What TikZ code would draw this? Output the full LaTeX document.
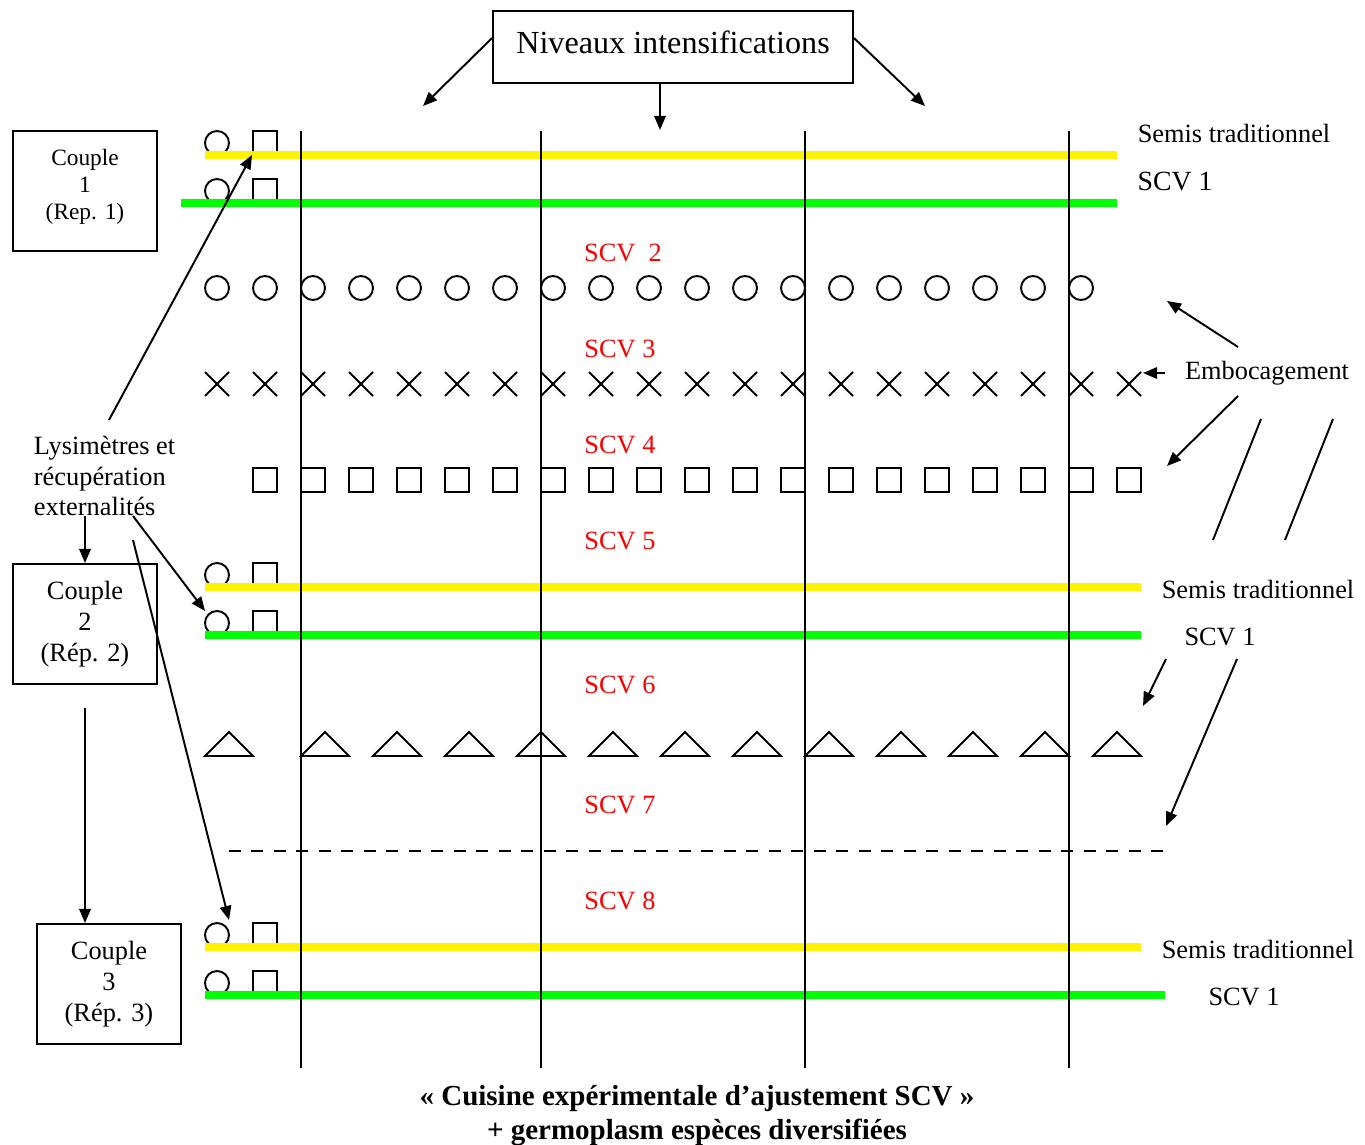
\documentclass[tikz,border=0pt]{standalone}
\usepackage{fontspec}
\setmainfont{Liberation Serif}
\usetikzlibrary{arrows.meta}

\begin{document}
\begin{tikzpicture}[x=0.02cm, y=-0.02cm, line width=1.1pt,
        fl/.style={-{Triangle[length=8pt,width=6.5pt]}},
        boite/.style={draw, minimum width=2.88cm, minimum height=2.4cm, align=center, inner sep=0pt},
        txt/.style={inner sep=0pt, font=\fontsize{15}{17.6}\selectfont},
        rouge/.style={txt, text=red},
        rond/.style={draw, circle, minimum size=0.48cm, inner sep=0pt},
        carre/.style={draw, rectangle, minimum size=0.48cm, inner sep=0pt},
        jaune/.style={draw=yellow, line width=4pt},
        vert/.style={draw=green, line width=4pt}]
        \useasboundingbox (0,0) rectangle (1365,1145);

        % boites
        \node[draw, minimum width=7.2cm, minimum height=1.44cm, text depth=0.2cm, font=\fontsize{18.3}{22}\selectfont] (niv) at (673,47) {Niveaux intensifications};
        \node[boite, text depth=0.26cm, font=\fontsize{13.3}{15.3}\selectfont] (cp1) at (85,191) {Couple\\1\\(Rep. 1)};
        \node[boite, font=\fontsize{15}{17.6}\selectfont] (cp2) at (85,624) {Couple\\2\\(Rép. 2)};
        \node[boite, font=\fontsize{15}{17.6}\selectfont] (cp3) at (109,984) {Couple\\3\\(Rép. 3)};

        % symboles
        \foreach \y in {143,191,575,623,935,983} {
            \node[rond] at (217,\y) {};
            \node[carre] at (265,\y) {};
        }
        \foreach \i in {0,...,18} \node[rond] (c\i) at ({217+48*\i},288) {};
        \foreach \i in {0,...,19} \draw ({205+48*\i},372) -- ++(24,24) ({229+48*\i},372) -- ++(-24,24);
        \foreach \i in {0,...,18} \node[carre] (s\i) at ({265+48*\i},480) {};
        \draw (205,756) -- (229,732) -- (253,756) -- cycle;
        \foreach \i in {0,...,11} \draw ({301+72*\i},756) -- ++(24,-24) -- ++(24,24) -- cycle;
        \draw[dash pattern=on 6.8pt off 6pt] (229,851) -- (1165,851);

        % lignes
        \draw[jaune] (205,155) -- (1117,155);
        \draw[vert] (181,203) -- (1117,203);
        \draw[jaune] (205,587) -- (1141,587);
        \draw[vert] (205,635) -- (1141,635);
        \draw[jaune] (205,947) -- (1141,947);
        \draw[vert] (205,995) -- (1165,995);
        \foreach \x in {301,541,805,1069} \draw (\x,131) -- (\x,1068);

        % textes
        \node[rouge] (scv2) at (623,253) {SCV~~2};
        \node[rouge] (scv3) at (620,349) {SCV 3};
        \node[rouge] (scv4) at (620,445) {SCV 4};
        \node[rouge] (scv5) at (620,541) {SCV 5};
        \node[rouge] (scv6) at (620,685) {SCV 6};
        \node[rouge] (scv7) at (620,805) {SCV 7};
        \node[rouge] (scv8) at (620,901) {SCV 8};
        \node[txt] (st1) at (1234,133) {Semis traditionnel};
        \node[txt, font=\fontsize{15.8}{18}\selectfont] (sa1) at (1175,182) {SCV 1};
        \node[txt] (emb) at (1267,373) {Embocagement};
        \node[txt] (st2) at (1258,589) {Semis traditionnel};
        \node[txt] (sa2) at (1220,637) {SCV 1};
        \node[txt] (st3) at (1258,949) {Semis traditionnel};
        \node[txt] (sa3) at (1244,997) {SCV 1};
        \node[txt, align=left, anchor=west] (lys) at (33,476) {Lysimètres et\\récupération\\externalités};
        \node[font=\fontsize{16.5}{19.3}\selectfont\bfseries, align=center, inner sep=0pt] (titre) at (697,1116) {« Cuisine expérimentale d’ajustement SCV »\\+ germoplasm espèces diversifiées};

        % fleches
        \coordinate (n1) at (423,106);
        \coordinate (n2) at (660,130);
        \coordinate (n3) at (925,106);
        \draw[fl] ([yshift=0.18cm]niv.west) -- (n1);
        \draw[fl] ([xshift=-0.26cm]niv.south) -- (n2);
        \draw[fl] ([yshift=0.18cm]niv.east) -- (n3);

        \coordinate (e1) at (1238,347);
        \coordinate (e2) at (1165,373);
        \coordinate (e3) at (1238,396);
        \coordinate (f1) at (1167,301);
        \coordinate (f2) at (1143,373);
        \coordinate (f3) at (1167,466);
        \draw[fl] (e1) -- (f1);
        \draw[fl] (e2) -- (f2);
        \draw[fl] (e3) -- (f3);
        \draw (1261,419) -- (1213,540);
        \draw (1333,419) -- (1285,540);

        \coordinate (g1) at (1166,659);
        \coordinate (g2) at (1237,659);
        \coordinate (h1) at (1143,706);
        \coordinate (h2) at (1166,826);
        \draw[fl] (g1) -- (h1);
        \draw[fl] (g2) -- (h2);

        \coordinate (l1) at (109,420);
        \coordinate (l2) at (85,516);
        \coordinate (l3) at (133,516);
        \coordinate (l4) at (133,540);
        \coordinate (m1) at (252,155);
        \coordinate (m3) at (205,611);
        \coordinate (m4) at (229,920);
        \draw[fl] (l1) -- (m1);
        \draw[fl] (l2) -- (cp2.north -| l2);
        \draw[fl] (l3) -- (m3);
        \draw[fl] (l4) -- (m4);
        \coordinate (k1) at (85,708);
        \draw[fl] (k1) -- (cp3.north -| k1);
    \end{tikzpicture}
\end{document}
